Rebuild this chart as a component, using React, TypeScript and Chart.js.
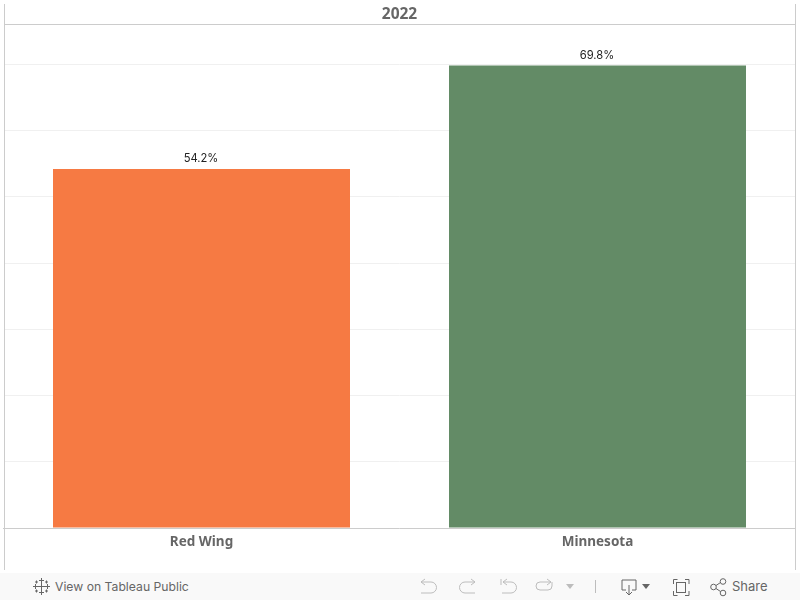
import React, { useEffect, useRef } from "react";
import { Chart, registerables } from "chart.js";

Chart.register(...registerables);

const categories = ["Red Wing", "Minnesota"];
const values = [54.2, 69.8];
const barColors = ["#F67A43", "#638B66"];
const columnHeader = "2022";
const axisMax = 76;
const axisStep = 10;

const frameAndLabels = {
  id: "frameAndLabels",
  afterDatasetsDraw(chart: any) {
    const { ctx, chartArea, scales } = chart;
    ctx.save();
    ctx.strokeStyle = "#cccccc";
    ctx.lineWidth = 1;
    ctx.beginPath();
    ctx.moveTo(4.5, 4);
    ctx.lineTo(4.5, 570);
    ctx.moveTo(795.5, 4);
    ctx.lineTo(795.5, 570);
    ctx.moveTo(4, chartArea.top);
    ctx.lineTo(796, chartArea.top);
    ctx.stroke();
    ctx.font = "11.2px Inter";
    ctx.fillStyle = "#222222";
    ctx.textAlign = "center";
    ctx.textBaseline = "alphabetic";
    values.forEach((v, i) => {
      ctx.fillText(v.toFixed(1) + "%", scales.x.getPixelForValue(i) - 0.5, scales.y.getPixelForValue(v) - 7);
    });
    ctx.restore();
  },
};

const iconStroke = { fill: "none", stroke: "#bdbdbd", strokeWidth: 1 };
const activeStroke = { fill: "none", stroke: "#666666", strokeWidth: 1 };

function Toolbar() {
  return (
    <div style={{ position: "absolute", left: 0, top: 573, width: 800, height: 27, background: "#f9f9f9" }}>
      <svg width={800} height={27} style={{ position: "absolute", left: 0, top: 0 }}>
        <g stroke="#666666" strokeWidth={1}>
          <path d="M41.500 5v5M39 7.500h5M41.500 17v5M39 19.500h5M35.500 11v5M33 13.500h5M47.500 11v5M45 13.500h5" />
          <path d="M41.500 9.500v8M37.500 13.500h8" />
          <path d="M36.500 7.500v3M35 9h3M46.500 7.500v3M45 9h3M36.500 16.500v3M35 18h3M46.500 16.500v3M45 18h3" />
        </g>
        <path d="M421 9h10a5 5 0 0 1 0 11h-10M421 9l4-3M421 9l4 3" {...iconStroke} />
        <path d="M475 9h-10a5 5 0 0 0 0 11h10M475 9l-4-3M475 9l-4 3" {...iconStroke} />
        <path d="M501 6v6M503 9h8a5 5 0 0 1 0 11h-9M503 9l4-3M503 9l4 3" {...iconStroke} />
        <path d="M551 9h-11a4 4 0 0 0 0 8h8a4 4 0 0 0 4-4v-4M551 9l-4-3M551 9l-4 3" {...iconStroke} />
        <path d="M566 11h8l-4 5z" fill="#bdbdbd" />
        <path d="M595.500 7v13" {...iconStroke} />
        <path d="M626 17h-4V7h14v10h-4M629 12v10M626 19l3 3 3-3" {...activeStroke} />
        <path d="M642 11h8l-4 5z" fill="#666666" />
        <path d="M673.500 11V6.500h4M685 6.500h4v4.500M689 18v4.500h-4M677.500 22.500h-4V18" {...activeStroke} />
        <rect x={676.5} y={9.5} width={9} height={10} {...activeStroke} />
        <circle cx={713.5} cy={14} r={2.8} {...activeStroke} />
        <circle cx={723} cy={8.5} r={2.8} {...activeStroke} />
        <circle cx={723} cy={20} r={2.8} {...activeStroke} />
        <path d="M716 12.500l4.500-3M716 15.500l4.500 3" {...activeStroke} />
      </svg>
      <div style={{ position: "absolute", left: 55, top: 6, font: "12.2px/15px Inter", color: "#666666", whiteSpace: "nowrap" }}>
        View on Tableau Public
      </div>
      <div style={{ position: "absolute", left: 732, top: 6, font: "13px/15px Inter", color: "#666666", whiteSpace: "nowrap" }}>
        Share
      </div>
    </div>
  );
}

export default function App() {
  const ref = useRef<HTMLCanvasElement>(null);

  useEffect(() => {
    const chart = new Chart(ref.current!, {
      type: "bar",
      data: {
        labels: categories,
        datasets: [
          {
            data: values,
            backgroundColor: barColors,
            categoryPercentage: 0.75,
            barPercentage: 1,
          },
        ],
      },
      plugins: [frameAndLabels],
      options: {
        animation: false,
        responsive: false,
        layout: { padding: { left: 3.5, right: 4.5, top: 0, bottom: 0 } },
        plugins: {
          legend: { display: false },
          tooltip: { enabled: false },
          title: {
            display: true,
            text: columnHeader,
            color: "#666666",
            font: { family: "'Noto Sans'", size: 15.5, weight: "bold" },
            padding: { top: 5.2, bottom: 0.7 },
          },
        },
        scales: {
          x: {
            grid: { display: false, drawTicks: false },
            border: { color: "#cccccc", width: 1 },
            ticks: {
              color: "#666666",
              padding: 6,
              font: { family: "'Noto Sans'", size: 13.5, weight: "bold" },
              maxRotation: 0,
            },
            afterFit(scale: any) {
              scale.height = 72;
            },
          },
          y: {
            min: 0,
            max: axisMax,
            grid: { color: "#f0f0f0", drawTicks: false },
            border: { display: false },
            ticks: { display: false, stepSize: axisStep },
          },
        },
      },
    } as any);
    return () => chart.destroy();
  }, []);

  return (
    <div style={{ position: "absolute", left: 0, top: 0, width: 800, height: 600, background: "#ffffff", overflow: "hidden" }}>
      <canvas ref={ref} width={800} height={600} style={{ display: "block" }} />
      <Toolbar />
    </div>
  );
}
